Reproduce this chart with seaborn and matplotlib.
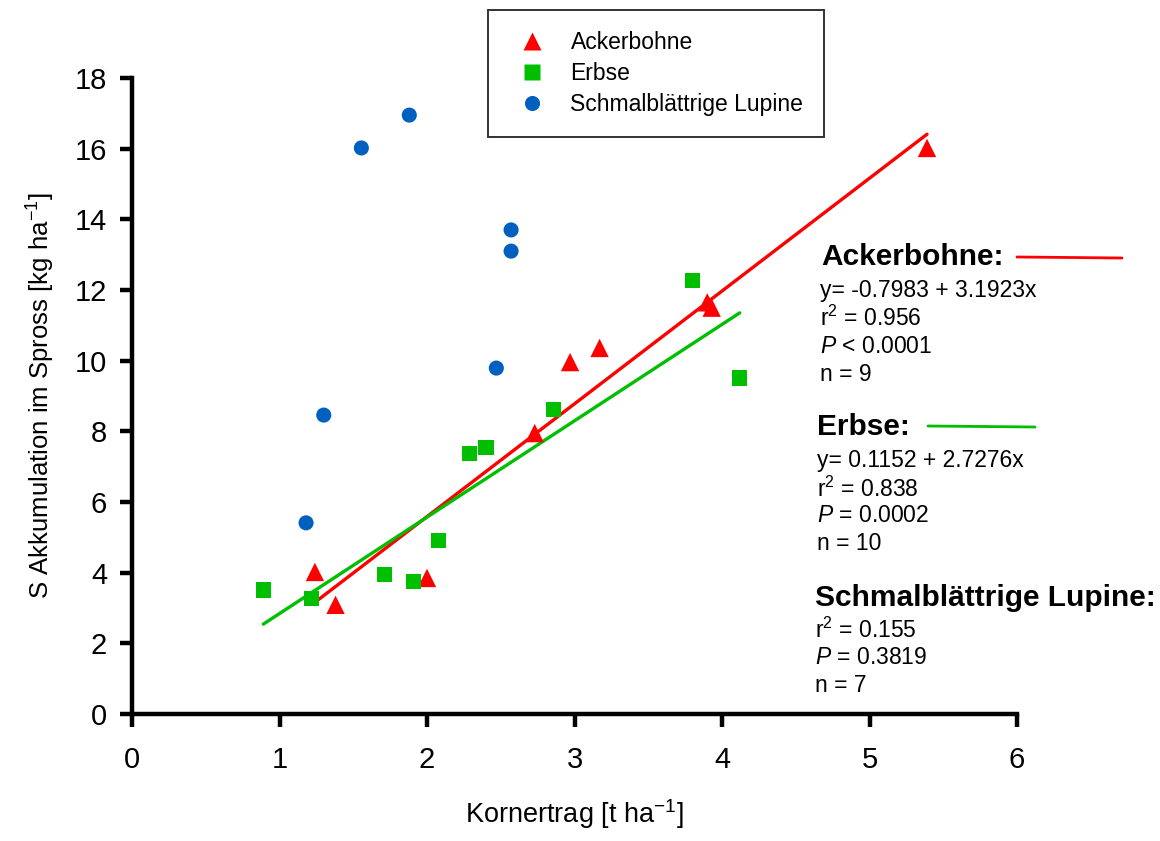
import matplotlib
matplotlib.use("Agg")
import matplotlib.pyplot as plt
import numpy as np
import pandas as pd
import seaborn as sns

# Kornertrag [t/ha] vs S-Akkumulation [kg/ha]
acker_x = [1.24, 1.38, 2.00, 2.73, 2.97, 3.17, 3.90, 3.93, 5.39]
acker_y = [4.02, 3.09, 3.85, 7.95, 9.96, 10.36, 11.65, 11.50, 16.02]

erbse_x = [0.89, 1.22, 1.71, 1.91, 2.08, 2.29, 2.40, 2.86, 3.80, 4.12]
erbse_y = [3.51, 3.28, 3.96, 3.74, 4.90, 7.36, 7.53, 8.63, 12.28, 9.51]

lupine_x = [1.18, 1.30, 1.555, 1.88, 2.47, 2.57, 2.57]
lupine_y = [5.41, 8.46, 16.02, 16.95, 9.79, 13.70, 13.10]

species = ["Ackerbohne", "Erbse", "Schmalblättrige Lupine"]

# regression coefficients as printed (intercept, slope)
acker_fit = (-0.7983, 3.1923)
erbse_fit = (0.1152, 2.7276)

x_ticks = [0, 1, 2, 3, 4, 5, 6]
y_ticks = [0, 2, 4, 6, 8, 10, 12, 14, 16, 18]

colors = {"Ackerbohne": "#ff0000", "Erbse": "#00bf00", "Schmalblättrige Lupine": "#0060c0"}
markers = {"Ackerbohne": "^", "Erbse": "s", "Schmalblättrige Lupine": "o"}
sizes = {"Ackerbohne": 175, "Erbse": 118, "Schmalblättrige Lupine": 118}

sns.set_style("ticks")
plt.rcParams["font.family"] = ["Liberation Sans", "DejaVu Sans"]
plt.rcParams["mathtext.fontset"] = "custom"
plt.rcParams["mathtext.rm"] = "Liberation Sans"
plt.rcParams["mathtext.it"] = "Liberation Sans:italic"
plt.rcParams["mathtext.bf"] = "Liberation Sans:bold"
for key in ["text.color", "axes.labelcolor", "xtick.color", "ytick.color", "axes.edgecolor"]:
    plt.rcParams[key] = "black"

df = pd.concat([
    pd.DataFrame({"x": acker_x, "y": acker_y, "Art": species[0]}),
    pd.DataFrame({"x": erbse_x, "y": erbse_y, "Art": species[1]}),
    pd.DataFrame({"x": lupine_x, "y": lupine_y, "Art": species[2]}),
], ignore_index=True)

fig = plt.figure(figsize=(11.6, 8.41), dpi=100)
ax = fig.add_axes([132 / 1160, 1 - 714 / 841, (1017 - 132) / 1160, (714 - 78) / 841])

# regression lines over the data range
for name, xs, (b0, b1) in [(species[0], acker_x, acker_fit), (species[1], erbse_x, erbse_fit)]:
    lx = np.array([min(xs), max(xs)])
    sns.lineplot(x=lx, y=b0 + b1 * lx, color=colors[name], lw=2.4, ax=ax, legend=False, zorder=2)

sns.scatterplot(data=df, x="x", y="y", hue="Art", style="Art", size="Art",
                hue_order=species, style_order=species, size_order=species,
                palette=colors, markers=markers, sizes=sizes,
                edgecolor="none", ax=ax, zorder=3, clip_on=False)

ax.set_xlim(0, 6)
ax.set_ylim(0, 18)
ax.set_xticks(x_ticks)
ax.set_yticks(y_ticks)
ax.tick_params(labelsize=21, length=9, width=3.2, direction="out")
ax.tick_params(axis="x", pad=14)
ax.tick_params(axis="y", pad=9)
sns.despine(ax=ax)
for sp in ["left", "bottom"]:
    ax.spines[sp].set_linewidth(3.2)

ax.set_xlabel("Kornertrag [t ha$^{-1}$]", fontsize=19.5, labelpad=17)
ax.set_ylabel("S Akkumulation im Spross [kg ha$^{-1}$]", fontsize=18.5, labelpad=13)

handles, labels = ax.get_legend_handles_labels()
leg = ax.legend(handles, labels, loc="upper left", bbox_to_anchor=(488 / 1160, 1 - 10 / 841),
                bbox_transform=fig.transFigure, fontsize=16.5, frameon=True, fancybox=False,
                borderpad=0.9, handletextpad=0.7, labelspacing=0.36, borderaxespad=0)
leg.get_frame().set_edgecolor("black")
leg.get_frame().set_linewidth(1.4)

# statistics block on the right
def fx(px):
    return px / 1160

def fy(py):
    return 1 - py / 841

fig.text(fx(821), fy(257), "Ackerbohne:", fontsize=21.5, fontweight="bold", va="center")
fig.add_artist(plt.Line2D([fx(1017), fx(1122)], [fy(257), fy(258)], color=colors["Ackerbohne"], lw=2))
for py, s in [(290, "y= -0.7983 + 3.1923x"), (318, "r$^{2}$ = 0.956"),
              (346, "$P$ < 0.0001"), (375, "n = 9")]:
    fig.text(fx(820), fy(py), s, fontsize=16.5, va="center")

fig.text(fx(817), fy(427), "Erbse:", fontsize=21.5, fontweight="bold", va="center")
fig.add_artist(plt.Line2D([fx(928), fx(1035)], [fy(426), fy(427)], color=colors["Erbse"], lw=2))
for py, s in [(461, "y= 0.1152 + 2.7276x"), (489, "r$^{2}$ = 0.838"),
              (516, "$P$ = 0.0002"), (544, "n = 10")]:
    fig.text(fx(817), fy(py), s, fontsize=16.5, va="center")

fig.text(fx(815), fy(598), "Schmalblättrige Lupine:", fontsize=21.5, fontweight="bold", va="center")
for py, s in [(630, "r$^{2}$ = 0.155"), (658, "$P$ = 0.3819"), (686, "n = 7")]:
    fig.text(fx(815), fy(py), s, fontsize=16.5, va="center")

fig.savefig("out.png", dpi=100)
